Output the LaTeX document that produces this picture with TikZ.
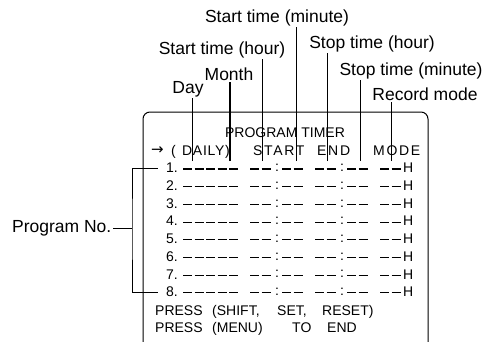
\documentclass[tikz,border=0pt]{standalone}
\usepackage{fontspec}
\setmainfont{Liberation Sans}
\newfontfamily\arrowfont{DejaVu Sans}
\usetikzlibrary{positioning,calc}

\begin{document}
\begin{tikzpicture}[x=1pt,y=-1pt,
    lbl/.style={font=\fontsize{17.5}{20}\selectfont, inner sep=1.5pt},
    scr/.style={font=\fontsize{14}{16}\selectfont, inner sep=0pt},
    wide/.style={scr, font=\fontsize{14}{16}\selectfont\addfontfeature{LetterSpace=12}},
    lead/.style={line width=0.8pt},
    dsh/.style={line width=1.1pt}
  ]
  \useasboundingbox (0,0) rectangle (485,341);

  %% Screen frame
  \draw[line width=1pt, rounded corners=7pt] (143,345) -- (143,112) -- (428,112) -- (428,345);

  %% Labels
  \node[lbl, anchor=base] (lStartMin) at (277,22) {Start time (minute)};
  \node[lbl, anchor=base] (lStartHr)  at (222,54) {Start time (hour)};
  \node[lbl, anchor=base] (lStopHr)   at (372,48) {Stop time (hour)};
  \node[lbl, anchor=base] (lMonth)    at (229,80) {Month};
  \node[lbl, anchor=base] (lStopMin)  at (411,75) {Stop time (minute)};
  \node[lbl, anchor=base] (lDay)      at (188,93) {Day};
  \node[lbl, anchor=base] (lRec)      at (425,100) {Record mode};

  %% Leader lines
  \coordinate (cDay)      at (192,161);
  \coordinate (cMonth)    at (230,161);
  \coordinate (cStartHr)  at (262,161);
  \coordinate (cStartMin) at (296,161);
  \coordinate (cStopHr)   at (327,161);
  \coordinate (cStopMin)  at (360,161);
  \coordinate (cRec)      at (391,161);
  \foreach \c/\l in {cDay/lDay, cStartHr/lStartHr, cStartMin/lStartMin,
                     cStopHr/lStopHr, cStopMin/lStopMin, cRec/lRec}
    \draw[lead] (\c) -- (\c |- \l.south);
  \draw[line width=1.4pt] (cMonth) -- (cMonth |- lMonth.south);

  %% Header
  \node[scr, anchor=base] (title) at (285,137) {PROGRAM TIMER};
  \node[scr, anchor=base west, font=\arrowfont\fontsize{15}{16}\selectfont] (hArr) at (151,154) {→};
  \node[scr, anchor=base west]  (hPar)   at (171,155) {(};
  \node[scr, anchor=base west, font=\fontsize{14}{16}\selectfont\addfontfeature{LetterSpace=5}] (hDaily) at (182,155) {DAILY)};
  \node[wide, anchor=base west] (hStart) at (253,155) {START};
  \node[wide, anchor=base west] (hEnd)   at (317,155) {END};
  \node[wide, anchor=base west] (hMode)  at (373,155) {MODE};

  %% Program rows
  \foreach \i in {1,...,8}{
    \pgfmathsetmacro\ry{168+(\i-1)*17.7}
    \node[scr, anchor=east] (n\i) at (178,\ry) {\i.};
    \foreach \gx/\gn in {183/5,250/2,282/2,315/2,347/2,380/2}
      \foreach \k in {1,...,\gn}
        \draw[dsh] (\gx+\k*11.5-11.5, \ry+1) -- ++(9,0);
    \node[scr] (ca\i) at (277,\ry) {:};
    \node[scr] (cb\i) at (342,\ry) {:};
    \node[scr, anchor=west] (h\i) at (403,\ry) {H};
  }

  %% Program No. bracket
  \node[lbl, anchor=east] (lProg) at (113,228) {Program No.};
  \coordinate (bx) at (132,228);
  \draw[lead] (lProg.east) -- (bx);
  \draw[lead] ($(n1.west)+(-8,0)$) -| (bx) |- ($(n8.west)+(-8,0)$);

  %% Footer
  \node[scr, anchor=base west] (p1) at (155,315) {PRESS};
  \node[scr, anchor=base west] (p2) at (212,315) {(SHIFT,};
  \node[scr, anchor=base west] (p3) at (277,315) {SET,};
  \node[scr, anchor=base west] (p4) at (322,315) {RESET)};
  \node[scr, anchor=base west] (q1) at (155,332) {PRESS};
  \node[scr, anchor=base west] (q2) at (212,332) {(MENU)};
  \node[scr, anchor=base west] (q3) at (292,332) {TO};
  \node[scr, anchor=base west] (q4) at (327,332) {END};
\end{tikzpicture}
\end{document}
